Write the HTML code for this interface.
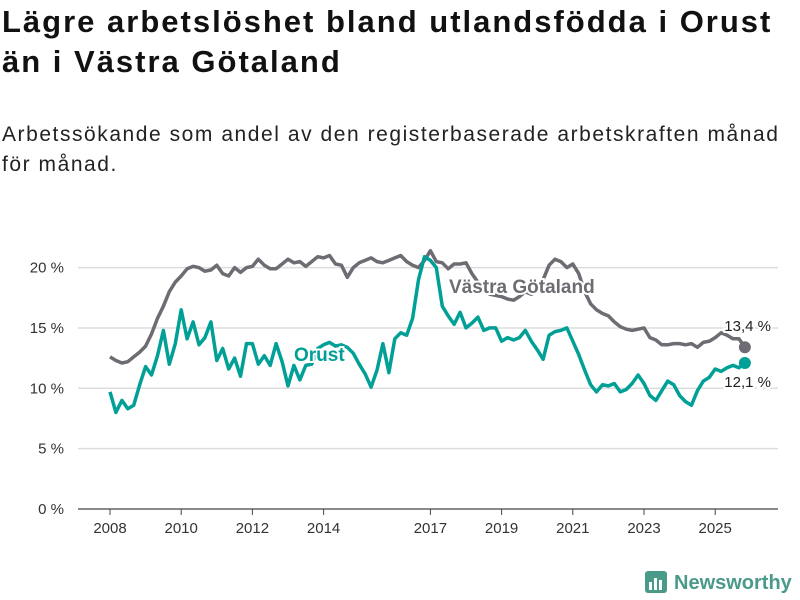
<!DOCTYPE html>
<html><head><meta charset="utf-8">
<style>
body{margin:0;background:#fff;font-family:"Liberation Sans",sans-serif;}
#wrap{position:relative;width:800px;height:600px;overflow:hidden;}
h1{position:absolute;left:2px;top:2px;margin:0;font-size:31px;line-height:40px;font-weight:bold;color:#111;width:800px;letter-spacing:2px;white-space:nowrap;}
.sub{position:absolute;left:2px;top:120px;margin:0;font-size:21px;line-height:30px;color:#222;width:800px;letter-spacing:1.55px;white-space:nowrap;}
svg{position:absolute;left:0;top:0;}
</style></head><body>
<div id="wrap">
<h1>Lägre arbetslöshet bland utlandsfödda i Orust<br>än i Västra Götaland</h1>
<p class="sub">Arbetssökande som andel av den registerbaserade arbetskraften månad<br>för månad.</p>
<svg id="chart" width="800" height="600"></svg>
</div>
<script>
const yTicks=[0,5,10,15,20];
const yTickLabels=["0 %","5 %","10 %","15 %","20 %"];
const xTicks=[2008,2010,2012,2014,2017,2019,2021,2023,2025];
const startYear=2008;
const stepsPerYear=6;
const vgValues=[12.6,12.3,12.1,12.2,12.6,13.0,
13.5,14.5,15.8,16.8,18.0,18.8,
19.3,19.9,20.1,20.0,19.7,19.8,
20.2,19.5,19.3,20.0,19.6,20.0,
20.1,20.7,20.2,19.9,19.9,20.3,
20.7,20.4,20.5,20.1,20.5,20.9,
20.8,21.0,20.3,20.2,19.2,20.0,
20.4,20.6,20.8,20.5,20.4,20.6,
20.8,21.0,20.5,20.2,20.0,20.6,
21.4,20.5,20.4,19.9,20.3,20.3,
20.4,19.5,18.8,18.2,17.8,17.7,
17.6,17.4,17.3,17.6,18.0,17.8,
18.0,19.0,20.2,20.7,20.5,20.0,
20.3,19.5,18.0,17.0,16.5,16.2,
16.0,15.5,15.1,14.9,14.8,14.9,
15.0,14.2,14.0,13.6,13.6,13.7,
13.7,13.6,13.7,13.4,13.8,13.9,
14.2,14.6,14.4,14.1,14.1,13.4];
const orustValues=[9.7,8.0,9.0,8.3,8.6,10.3,
11.8,11.1,12.7,14.8,12.0,13.7,
16.5,14.1,15.5,13.6,14.2,15.5,
12.3,13.3,11.6,12.5,11.0,13.7,
13.7,12.0,12.7,11.9,13.7,12.2,
10.2,11.9,10.7,11.9,12.0,13.3,
13.6,13.8,13.5,13.6,13.4,12.9,
12.0,11.2,10.1,11.5,13.7,11.3,
14.1,14.6,14.4,15.8,19.0,20.9,
20.6,20.0,16.8,16.0,15.3,16.3,
15.0,15.4,15.9,14.8,15.0,15.0,
13.9,14.2,14.0,14.2,14.8,13.9,
13.2,12.4,14.4,14.7,14.8,15.0,
13.9,12.8,11.5,10.3,9.7,10.3,
10.2,10.4,9.7,9.9,10.4,11.1,
10.4,9.4,9.0,9.8,10.6,10.3,
9.4,8.9,8.6,9.8,10.6,10.9,
11.6,11.4,11.7,11.9,11.7,12.1];

const NS="http://www.w3.org/2000/svg";
const svg=document.getElementById('chart');
const x=yr=>110+(yr-2008)*35.6;
const y=v=>509-v*12.07;
function mk(t,a,p){const e=document.createElementNS(NS,t);for(const k in a)e.setAttribute(k,a[k]);(p||svg).appendChild(e);return e;}

yTicks.forEach((t,i)=>{
  const g=mk('line',{x1:78,x2:778,y1:y(t),y2:y(t),stroke:t===0?'#444':'#ddd','stroke-width':t===0?1.2:1.5});
  
  
  const l=mk('text',{x:64,y:y(t)+5,'text-anchor':'end','font-size':15,fill:'#333'});
  l.textContent=yTickLabels[i];
  
  
});
xTicks.forEach(t=>{
  const tk=mk('line',{x1:x(t),x2:x(t),y1:509,y2:515,stroke:'#444','stroke-width':1});
  
  
  const l=mk('text',{x:x(t),y:533,'text-anchor':'middle','font-size':15,fill:'#333'});
  l.textContent=t;
  
  
});
function line(vals,color,name){
  const d=vals.map((v,i)=>(i?'L':'M')+x(startYear+i/stepsPerYear).toFixed(1)+','+y(v).toFixed(1)).join('');
  const p=mk('path',{d:d,fill:'none',stroke:color,'stroke-width':3.5,'stroke-linejoin':'round'});
  
  
  const n=vals.length-1;
  const c=mk('circle',{cx:x(startYear+n/stepsPerYear),cy:y(vals[n]),r:6,fill:color});
  
  
}
line(vgValues,'#6e6c72','vastra-gotaland');
line(orustValues,'#00a096','orust');
function label(txt,xx,yy,color,size,weight,name,anchor){
  const t=mk('text',{x:xx,y:yy,'font-size':size,'font-weight':weight,fill:color,stroke:'#fff','stroke-width':4,'paint-order':'stroke','text-anchor':anchor||'start'});
  t.textContent=txt;
  
  
}
label('Västra Götaland',449,293,'#6e6c72',19,'bold','vastra-gotaland-label');
label('Orust',294,361,'#00a096',19,'bold','orust-label');
label('13,4 %',771,331,'#222',15,'normal','vastra-gotaland-end-value','end');
label('12,1 %',771,387,'#222',15,'normal','orust-end-value','end');
</script>
<svg width="800" height="600" style="position:absolute;left:0;top:0">
<rect x="645" y="571" width="22" height="22" rx="3" fill="#4a9a8a"/>
<rect x="649" y="582" width="3" height="8" fill="#fff"/><rect x="654" y="578" width="3" height="12" fill="#fff"/><rect x="659" y="580" width="3" height="10" fill="#fff"/>
<text x="674" y="589" font-size="20" font-weight="bold" fill="#4a9a8a" font-family="Liberation Sans, sans-serif">Newsworthy</text>
</svg>
</body></html>
